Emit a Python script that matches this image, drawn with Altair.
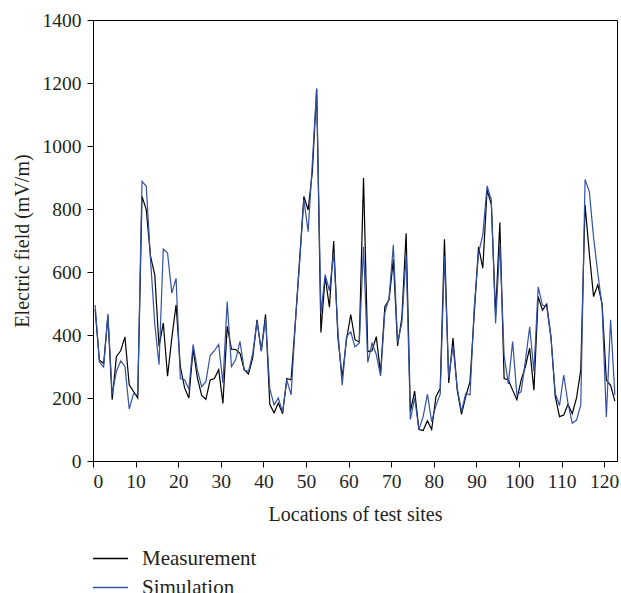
import altair as alt
import pandas as pd

sites = list(range(123))

measurement = [
    480, 320, 310, 460, 195, 332, 350, 394, 242, 221,
    200, 840, 798, 650, 591, 364, 438, 269, 390, 496,
    300, 232, 200, 355, 265, 208, 196, 257, 262, 290,
    183, 428, 355, 354, 342, 290, 276, 328, 448, 350,
    466, 180, 153, 184, 150, 262, 258, 440, 640, 840,
    797, 920, 1180, 408, 585, 488, 698, 390, 265, 385,
    465, 385, 378, 898, 347, 350, 395, 278, 490, 512,
    640, 365, 455, 723, 157, 222, 100, 97, 128, 100,
    204, 230, 704, 248, 390, 225, 148, 205, 252, 470,
    680, 612, 860, 815, 465, 757, 262, 257, 225, 195,
    257, 300, 358, 225, 522, 479, 498, 395, 206, 141,
    146, 180, 150, 200, 289, 813, 660, 522, 559, 500,
    257, 240, 190,
]

simulation = [
    495, 315, 298, 467, 212, 285, 318, 300, 165, 213,
    210, 888, 872, 640, 435, 306, 673, 660, 533, 580,
    262, 258, 228, 370, 289, 236, 252, 335, 350, 370,
    247, 506, 300, 322, 380, 289, 284, 342, 443, 348,
    452, 230, 178, 200, 155, 257, 210, 440, 630, 830,
    728, 950, 1183, 470, 592, 540, 662, 410, 241, 395,
    410, 362, 375, 680, 313, 374, 338, 270, 470, 518,
    686, 375, 440, 655, 132, 200, 100, 141, 212, 125,
    176, 212, 650, 265, 365, 232, 157, 215, 210, 490,
    660, 718, 873, 829, 437, 690, 335, 245, 379, 210,
    220, 318, 426, 284, 553, 495, 490, 390, 215, 176,
    273, 183, 120, 130, 178, 894, 855, 710, 596, 490,
    140, 448, 210,
]

series_names = ["Measurement", "Simulation"]
x_ticks = list(range(0, 121, 10))
y_ticks = list(range(0, 1401, 200))

rows = []
for s, m in zip(sites, measurement):
    rows.append({"site": s, "series": "Measurement", "value": m})
for s, v in zip(sites, simulation):
    rows.append({"site": s, "series": "Simulation", "value": v})
df = pd.DataFrame(rows)

FONT = "Liberation Serif"
TEXT = "#231f20"

chart = (
    alt.Chart(df)
    .transform_calculate(x="datum.site + 0.5")
    .mark_line(strokeWidth=1.2, clip=True)
    .encode(
        x=alt.X(
            "x:Q",
            scale=alt.Scale(domain=[0, 123], nice=False, zero=False),
            axis=alt.Axis(values=x_ticks, format="d", title="Locations of test sites",
                          titlePadding=14, labelPadding=5),
        ),
        y=alt.Y(
            "value:Q",
            scale=alt.Scale(domain=[0, 1400], nice=False),
            axis=alt.Axis(values=y_ticks, format="d", title="Electric field (mV/m)",
                          titlePadding=10, labelPadding=6),
        ),
        color=alt.Color(
            "series:N",
            scale=alt.Scale(domain=series_names, range=["#000000", "#3451a6"]),
            legend=alt.Legend(
                title=None,
                orient="none",
                legendX=-1,
                legendY=520,
                direction="vertical",
                symbolType="stroke",
                symbolSize=1225,
                symbolStrokeWidth=1.6,
                labelFont=FONT,
                labelFontSize=21,
                labelColor=TEXT,
                labelOffset=13,
                rowPadding=-5,
            ),
        ),
    )
    .properties(
        width=524,
        height=441,
        autosize=alt.AutoSizeParams(type="none"),
        padding={"left": 93, "top": 20, "right": 4, "bottom": 132},
    )
    .configure_view(stroke="#000000", strokeWidth=1)
    .configure_axis(
        grid=False,
        domainColor="#000000",
        tickColor="#000000",
        tickSize=6,
        labelFont=FONT,
        labelFontSize=19.5,
        labelColor=TEXT,
        titleFont=FONT,
        titleFontSize=20,
        titleFontWeight="normal",
        titleColor=TEXT,
    )
)

chart.save("out.html", embed_options={"renderer": "svg", "actions": False})
